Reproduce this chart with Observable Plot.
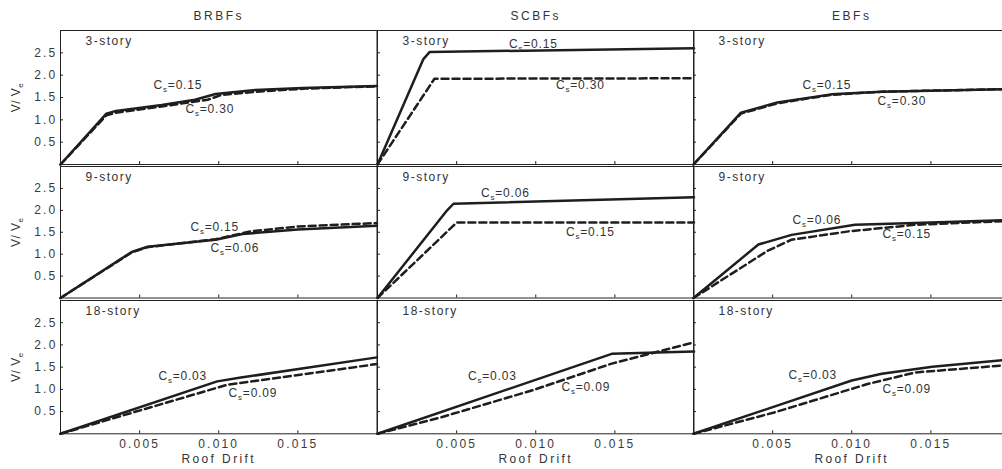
<!DOCTYPE html>
<html><head><meta charset="utf-8">
<script src="https://cdn.jsdelivr.net/npm/d3@7"></script>
<script src="https://cdn.jsdelivr.net/npm/@observablehq/plot@0.6"></script>
<style>
html,body{margin:0;padding:0;overflow:hidden;background:#fff;}
#chart{position:relative;width:1002px;height:469px;overflow:hidden;background:#fff;}
#chart svg{position:absolute;}
#chart svg text{fill:#333;font-family:"Liberation Sans",Arial,sans-serif;font-size:12px;}
#chart g[aria-label^="x-axis"] text,#chart g[aria-label^="y-axis"] text{letter-spacing:2.2px;fill:#3a3a3a;}
</style>
</head><body>
<div id="chart"></div>
<script>
// ---- categories & ticks ----
const systems = ["BRBFs", "SCBFs", "EBFs"];
const stories = ["3-story", "9-story", "18-story"];
const xTicks = [0.005, 0.010, 0.015];
const yTicks = [0.5, 1.0, 1.5, 2.0, 2.5];
const csSolid = ["0.15", "0.06", "0.03"];
const csDashed = ["0.30", "0.15", "0.09"];

// ---- pushover curves [roof drift, V/Ve] ----
const brbf3Solid  = [[0,0],[0.0029,1.14],[0.0035,1.20],[0.0064,1.33],[0.0085,1.45],[0.0098,1.58],[0.0123,1.67],[0.0153,1.71],[0.02,1.76]];
const brbf3Dashed = [[0,0],[0.0029,1.10],[0.0035,1.16],[0.0064,1.30],[0.0093,1.45],[0.0102,1.56],[0.0128,1.64],[0.0155,1.70],[0.02,1.75]];
const scbf3Solid  = [[0,0],[0.0029,2.36],[0.0033,2.52],[0.02,2.60]];
const scbf3Dashed = [[0,0],[0.0036,1.92],[0.02,1.93]];
const ebf3Solid   = [[0,0],[0.0030,1.16],[0.0053,1.39],[0.0087,1.57],[0.0119,1.63],[0.02,1.69]];
const ebf3Dashed  = [[0,0],[0.0030,1.14],[0.0053,1.37],[0.0087,1.56],[0.0119,1.63],[0.02,1.69]];

const brbf9Solid  = [[0,0],[0.0045,1.05],[0.0055,1.17],[0.0098,1.33],[0.0115,1.46],[0.0150,1.56],[0.02,1.65]];
const brbf9Dashed = [[0,0],[0.0045,1.04],[0.0055,1.16],[0.0098,1.34],[0.0120,1.52],[0.0150,1.63],[0.02,1.71]];
const scbf9Solid  = [[0,0],[0.0044,2.00],[0.0048,2.15],[0.02,2.30]];
const scbf9Dashed = [[0,0],[0.0050,1.72],[0.02,1.72]];
const ebf9Solid   = [[0,0],[0.0041,1.22],[0.0062,1.44],[0.0102,1.67],[0.0140,1.71],[0.02,1.78]];
const ebf9Dashed  = [[0,0],[0.0047,1.08],[0.0062,1.33],[0.0098,1.52],[0.0140,1.67],[0.02,1.76]];

const brbf18Solid  = [[0,0],[0.0099,1.18],[0.0113,1.26],[0.02,1.72]];
const brbf18Dashed = [[0,0],[0.0105,1.10],[0.02,1.57]];
const scbf18Solid  = [[0,0],[0.0148,1.80],[0.02,1.85]];
const scbf18Dashed = [[0,0],[0.0040,0.37],[0.0098,0.98],[0.0148,1.58],[0.02,2.06]];
const ebf18Solid   = [[0,0],[0.0100,1.20],[0.0119,1.35],[0.0151,1.51],[0.02,1.67]];
const ebf18Dashed  = [[0,0],[0.0051,0.48],[0.0110,1.12],[0.0140,1.38],[0.02,1.55]];

// ---- annotation anchors (data coords) ----
const solidLabelAt = [
  [[0.00588,1.78],[0.00831,2.70],[0.00689,1.78]],
  [[0.00948,1.14],[0.00654,2.40],[0.00626,1.78]],
  [[0.00619,1.29],[0.00572,1.29],[0.00600,1.31]]
];
const dashedLabelAt = [
  [[0.00790,1.24],[0.01128,1.78],[0.01163,1.41]],
  [[0.00821,1.62],[0.01191,1.51],[0.01194,1.46]],
  [[0.01062,0.91],[0.01163,1.05],[0.01194,1.00]]
];

const solids = [[brbf3Solid,scbf3Solid,ebf3Solid],[brbf9Solid,scbf9Solid,ebf9Solid],[brbf18Solid,scbf18Solid,ebf18Solid]];
const dasheds = [[brbf3Dashed,scbf3Dashed,ebf3Dashed],[brbf9Dashed,scbf9Dashed,ebf9Dashed],[brbf18Dashed,scbf18Dashed,ebf18Dashed]];

// ---- layout ----
const colX = [60, 376.5, 693];
const rowTop = [29.5, 165.5, 300];
const rowBottom = [163.5, 297, 433.3];
const W = 316.5;
const chart = document.getElementById("chart");
const NS = "http://www.w3.org/2000/svg";

function sub(textEl, main, subs, rest) {
  textEl.textContent = "";
  const a = document.createElementNS(NS, "tspan"); a.textContent = main; textEl.appendChild(a);
  const b = document.createElementNS(NS, "tspan"); b.textContent = subs; b.setAttribute("dy", "3"); b.setAttribute("style", "font-size:8px"); textEl.appendChild(b);
  if (rest) { const c = document.createElementNS(NS, "tspan"); c.textContent = rest; c.setAttribute("dy", "-3"); textEl.appendChild(c); }
}

for (let row = 0; row < 3; row++) {
  for (let col = 0; col < 3; col++) {
    const ml = col === 0 ? 60 : 4, mr = 4, mt = row === 0 ? 30 : 4, mb = row === 2 ? 40 : 4;
    const H = rowBottom[row] - rowTop[row];
    const labels = [
      {x: solidLabelAt[row][col][0], y: solidLabelAt[row][col][1], t: "Cs=" + csSolid[row]},
      {x: dashedLabelAt[row][col][0], y: dashedLabelAt[row][col][1], t: "Cs=" + csDashed[row]}
    ];
    const marks = [
      Plot.frame({stroke: "#222", strokeWidth: 1}),
      Plot.tickX(xTicks, {x: d => d, insetTop: H - 3, stroke: "#222"}),
      Plot.tickY(yTicks, {y: d => d, insetRight: W - 3, stroke: "#222"}),
      Plot.line(solids[row][col], {x: d => d[0], y: d => d[1], stroke: "#1e1e1e", strokeWidth: 2.5, strokeLinejoin: "round"}),
      Plot.line(dasheds[row][col], {x: d => d[0], y: d => d[1], stroke: "#1e1e1e", strokeWidth: 2.5, strokeDasharray: "7,4"}),
      Plot.text(labels, {x: "x", y: "y", text: "t", textAnchor: "start", lineAnchor: "middle"}),
      Plot.text([stories[row]], {text: d => d, frameAnchor: "top-left", dx: 25, dy: 11, textAnchor: "start", lineAnchor: "middle"})
    ];
    if (row === 0) marks.push(Plot.text([systems[col]], {text: d => d, frameAnchor: "top", dy: -14, lineAnchor: "middle"}));
    if (row === 2) marks.push(Plot.text(["Roof Drift"], {text: d => d, frameAnchor: "bottom", dy: 25, lineAnchor: "middle"}));
    if (col === 0) marks.push(Plot.text(["V/ Ve"], {text: d => d, frameAnchor: "left", dx: -44, rotate: -90, textAnchor: "middle", lineAnchor: "middle"}));

    const svg = Plot.plot({
      width: ml + W + mr,
      height: mt + H + mb,
      marginLeft: ml, marginRight: mr, marginTop: mt, marginBottom: mb,
      x: {domain: [0, 0.02], ticks: xTicks, tickSize: 0, tickPadding: 6, tickFormat: d3.format(".3f"), label: null, axis: row === 2 ? "bottom" : null},
      y: {domain: [0, 3], ticks: yTicks, tickSize: 0, tickPadding: 3, tickFormat: d3.format(".1f"), label: null, axis: col === 0 ? "left" : null},
      style: {background: "transparent", overflow: "visible", fontFamily: "Liberation Sans, Arial, sans-serif", fontSize: "12px", color: "#333"},
      marks
    });
    svg.style.left = (colX[col] - ml) + "px";
    svg.style.top = (rowTop[row] - mt) + "px";
    svg.style.maxWidth = "none";
    svg.querySelectorAll("text").forEach(t => {
      const s = t.textContent;
      if (s.startsWith("Cs=")) { t.style.letterSpacing = "0.8px"; sub(t, "C", "s", s.slice(2)); }
      else if (s === "V/ Ve") { t.style.letterSpacing = "0.5px"; sub(t, "V/ V", "e", ""); }
      else if (systems.includes(s)) t.style.letterSpacing = "2.5px";
      else if (stories.includes(s)) t.style.letterSpacing = "1.5px";
      else if (s === "Roof Drift") t.style.letterSpacing = "2.4px";
    });
    chart.appendChild(svg);
  }
}
</script>
</body></html>
